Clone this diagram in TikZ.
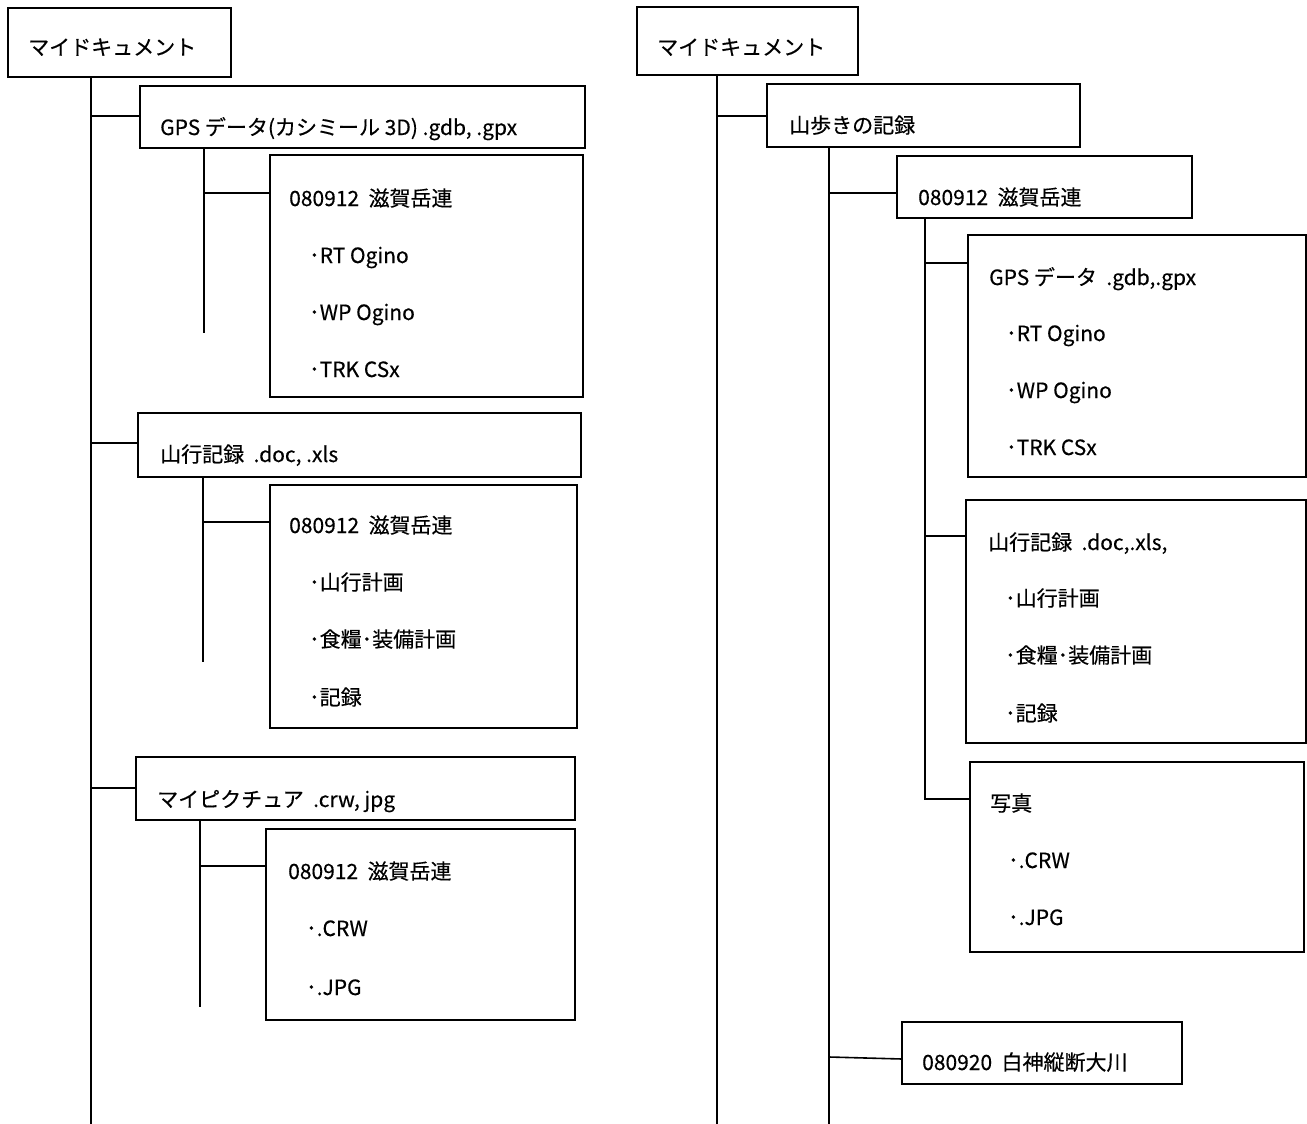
\documentclass[tikz,border=0pt]{standalone}
\usepackage{fontspec}
\setmainfont{Noto Sans CJK JP}[FakeBold=0.35]
\begin{document}
\begin{tikzpicture}[x=1pt,y=-1pt,
  box/.style={draw=black,line width=1.6pt,inner sep=0pt},
  lbl/.style={anchor=base west,inner sep=0pt,font=\fontsize{21}{25}\selectfont},
  conn/.style={draw=black,line width=1.6pt}]
\useasboundingbox (0,0) rectangle (1307,1124);
\fill[white] (0,0) rectangle (1307,1124);
% ---------- left tree ----------
\draw[box] (8,8) rectangle (231,77);        \node (boxA) at (119.5,42.5) {};
\draw[box] (140,86) rectangle (585,148);    \node (l1) at (362.5,117) {};
\draw[box] (270,155) rectangle (583,397);   \node (l1s) at (426.5,276) {};
\draw[box] (138,413) rectangle (581,477);   \node (l2) at (359.5,445) {};
\draw[box] (270,485) rectangle (577,728);   \node (l2s) at (423.5,606.5) {};
\draw[box] (136,757) rectangle (575,820);   \node (l3) at (355.5,788.5) {};
\draw[box] (266,829) rectangle (575,1020);  \node (l3s) at (420.5,924.5) {};
\node[lbl] (tA) at (28,55) {マイドキュメント};
\node[lbl] (t1) at (160,135) {GPS データ(カシミール 3D) .gdb, .gpx};
\node[lbl] (t1a) at (289,206) {080912\ \ 滋賀岳連};
\node[lbl] (t1b) at (309,263) {･RT Ogino};
\node[lbl] (t1c) at (309,320) {･WP Ogino};
\node[lbl] (t1d) at (309,377) {･TRK CSx};
\node[lbl] (t2) at (160,462) {山行記録\ \ .doc, .xls};
\node[lbl] (t2a) at (289,533) {080912\ \ 滋賀岳連};
\node[lbl] (t2b) at (309,590) {･山行計画};
\node[lbl] (t2c) at (309,647) {･食糧･装備計画};
\node[lbl] (t2d) at (309,705) {･記録};
\node[lbl] (t3) at (157,807) {マイピクチュア\ \ .crw, jpg};
\node[lbl] (t3a) at (288,879) {080912\ \ 滋賀岳連};
\node[lbl] (t3b) at (306,936) {･.CRW};
\node[lbl] (t3c) at (306,995) {･.JPG};
\coordinate (lt0) at (91,77);  \coordinate (lt1) at (91,1124);
\draw[conn] (lt0) -- (lt1);
\draw[conn] (91,116) -- (140,116);
\draw[conn] (91,443) -- (138,443);
\draw[conn] (91,788) -- (136,788);
\draw[conn] (204,148) -- (204,333);
\draw[conn] (204,193) -- (270,193);
\draw[conn] (203,477) -- (203,662);
\draw[conn] (203,522) -- (270,522);
\draw[conn] (200,820) -- (200,1007);
\draw[conn] (200,866) -- (266,866);
% ---------- right tree ----------
\draw[box] (637,7) rectangle (858,75);      \node (boxB) at (747.5,41) {};
\draw[box] (767,84) rectangle (1080,147);   \node (r1) at (923.5,115.5) {};
\draw[box] (897,156) rectangle (1192,218);  \node (r2) at (1044.5,187) {};
\draw[box] (968,235) rectangle (1306,477);  \node (r2a) at (1137,356) {};
\draw[box] (966,500) rectangle (1306,743);  \node (r2b) at (1136,621.5) {};
\draw[box] (970,762) rectangle (1304,952);  \node (r2c) at (1137,857) {};
\draw[box] (902,1022) rectangle (1182,1084);\node (r3) at (1042,1053) {};
\node[lbl] (tB) at (657,55) {マイドキュメント};
\node[lbl] (u1) at (789,133) {山歩きの記録};
\node[lbl] (u2) at (918,205) {080912\ \ 滋賀岳連};
\node[lbl] (u3) at (989,285) {GPS データ\ \ .gdb,.gpx};
\node[lbl] (u3a) at (1006,341) {･RT Ogino};
\node[lbl] (u3b) at (1006,398) {･WP Ogino};
\node[lbl] (u3c) at (1006,455) {･TRK CSx};
\node[lbl] (u4) at (988,550) {山行記録\ \ .doc,.xls,};
\node[lbl] (u4a) at (1005,606) {･山行計画};
\node[lbl] (u4b) at (1005,663) {･食糧･装備計画};
\node[lbl] (u4c) at (1005,721) {･記録};
\node[lbl] (u5) at (990,811) {写真};
\node[lbl] (u5a) at (1008,868) {･.CRW};
\node[lbl] (u5b) at (1008,925) {･.JPG};
\node[lbl] (u6) at (922,1070) {080920\ \ 白神縦断大川};
\draw[conn] (717,75) -- (717,1124);
\draw[conn] (717,116) -- (767,116);
\draw[conn] (829,147) -- (829,1124);
\draw[conn] (829,193) -- (897,193);
\draw[conn] (829,1057) -- (902,1059);
\draw[conn] (925,218) -- (925,799) -- (970,799);
\draw[conn] (925,263) -- (968,263);
\draw[conn] (925,536) -- (966,536);
\end{tikzpicture}
\end{document}
